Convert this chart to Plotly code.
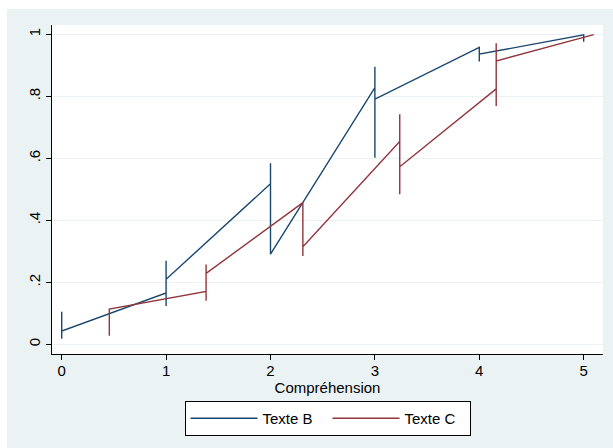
import plotly.graph_objects as go

# Path of each series, in drawing order (several y values share one x).
texte_b_x = [0, 0, 0, 1, 1, 1, 1, 2, 2, 2, 3, 3, 3, 3, 4, 4, 4, 5, 5]
texte_b_y = [0.105, 0.018, 0.043, 0.166, 0.270, 0.124, 0.210, 0.518, 0.584, 0.291,
             0.828, 0.895, 0.602, 0.791, 0.958, 0.912, 0.936, 0.998, 0.976]

texte_c_x = [0.456, 0.456, 1.383, 1.383, 1.383, 1.383, 2.310, 2.310, 2.310,
             3.238, 3.238, 3.238, 3.238, 4.162, 4.162, 4.162, 4.162, 5.096]
texte_c_y = [0.028, 0.114, 0.171, 0.258, 0.141, 0.229, 0.457, 0.285, 0.315,
             0.654, 0.742, 0.484, 0.573, 0.824, 0.971, 0.769, 0.914, 0.999]

x_ticks = [0, 1, 2, 3, 4, 5]
y_ticks = [0, 0.2, 0.4, 0.6, 0.8, 1]
y_tick_labels = ["0", ".2", ".4", ".6", ".8", "1"]

NAVY = "#1A476F"
MAROON = "#90353B"
BG = "#EAF2F3"
FONT = "Liberation Sans, Arial, sans-serif"

fig = go.Figure()
fig.add_trace(go.Scatter(x=texte_b_x, y=texte_b_y, mode="lines", name="Texte B",
                         line=dict(color=NAVY, width=1.4)))
fig.add_trace(go.Scatter(x=texte_c_x, y=texte_c_y, mode="lines", name="Texte C",
                         line=dict(color=MAROON, width=1.4)))

fig.update_layout(
    width=613, height=448,
    margin=dict(l=52, r=10, t=25, b=94),
    paper_bgcolor=BG,
    plot_bgcolor="white",
    font=dict(family=FONT, size=15, color="black"),
    showlegend=True,
    legend=dict(
        orientation="h",
        x=0.5, xanchor="center",
        y=-0.143, yanchor="top",
        bgcolor="white", bordercolor="black", borderwidth=1,
        itemwidth=67,
        entrywidth=60,
        font=dict(size=15),
        traceorder="normal",
    ),
    xaxis=dict(
        range=[-0.093, 5.185],
        tickvals=x_ticks,
        ticks="outside", ticklen=5, tickcolor="black",
        showline=True, linecolor="black", linewidth=1,
        showgrid=False, zeroline=False,
        ticklabelstandoff=-2,
        title=dict(text="Compréhension", standoff=0, font=dict(size=15)),
        tickfont=dict(size=15),
    ),
    yaxis=dict(
        range=[-0.031, 1.030],
        tickvals=y_ticks, ticktext=y_tick_labels,
        tickangle=-90,
        ticks="outside", ticklen=5, tickcolor="black",
        showline=True, linecolor="black", linewidth=1,
        showgrid=True, gridcolor=BG, gridwidth=1,
        zeroline=False,
        tickfont=dict(size=15),
    ),
    shapes=[
        # white strips framing the shaded outer region
        dict(type="rect", xref="paper", yref="paper",
             x0=-0.2, x1=(7 - 52) / 551, y0=-0.4, y1=1.2,
             fillcolor="white", line=dict(width=0), layer="below"),
        dict(type="rect", xref="paper", yref="paper",
             x0=-0.2, x1=1.1, y0=(354 - 9) / 329, y1=1.2,
             fillcolor="white", line=dict(width=0), layer="below"),
    ],
)

fig.write_html("out.html")
